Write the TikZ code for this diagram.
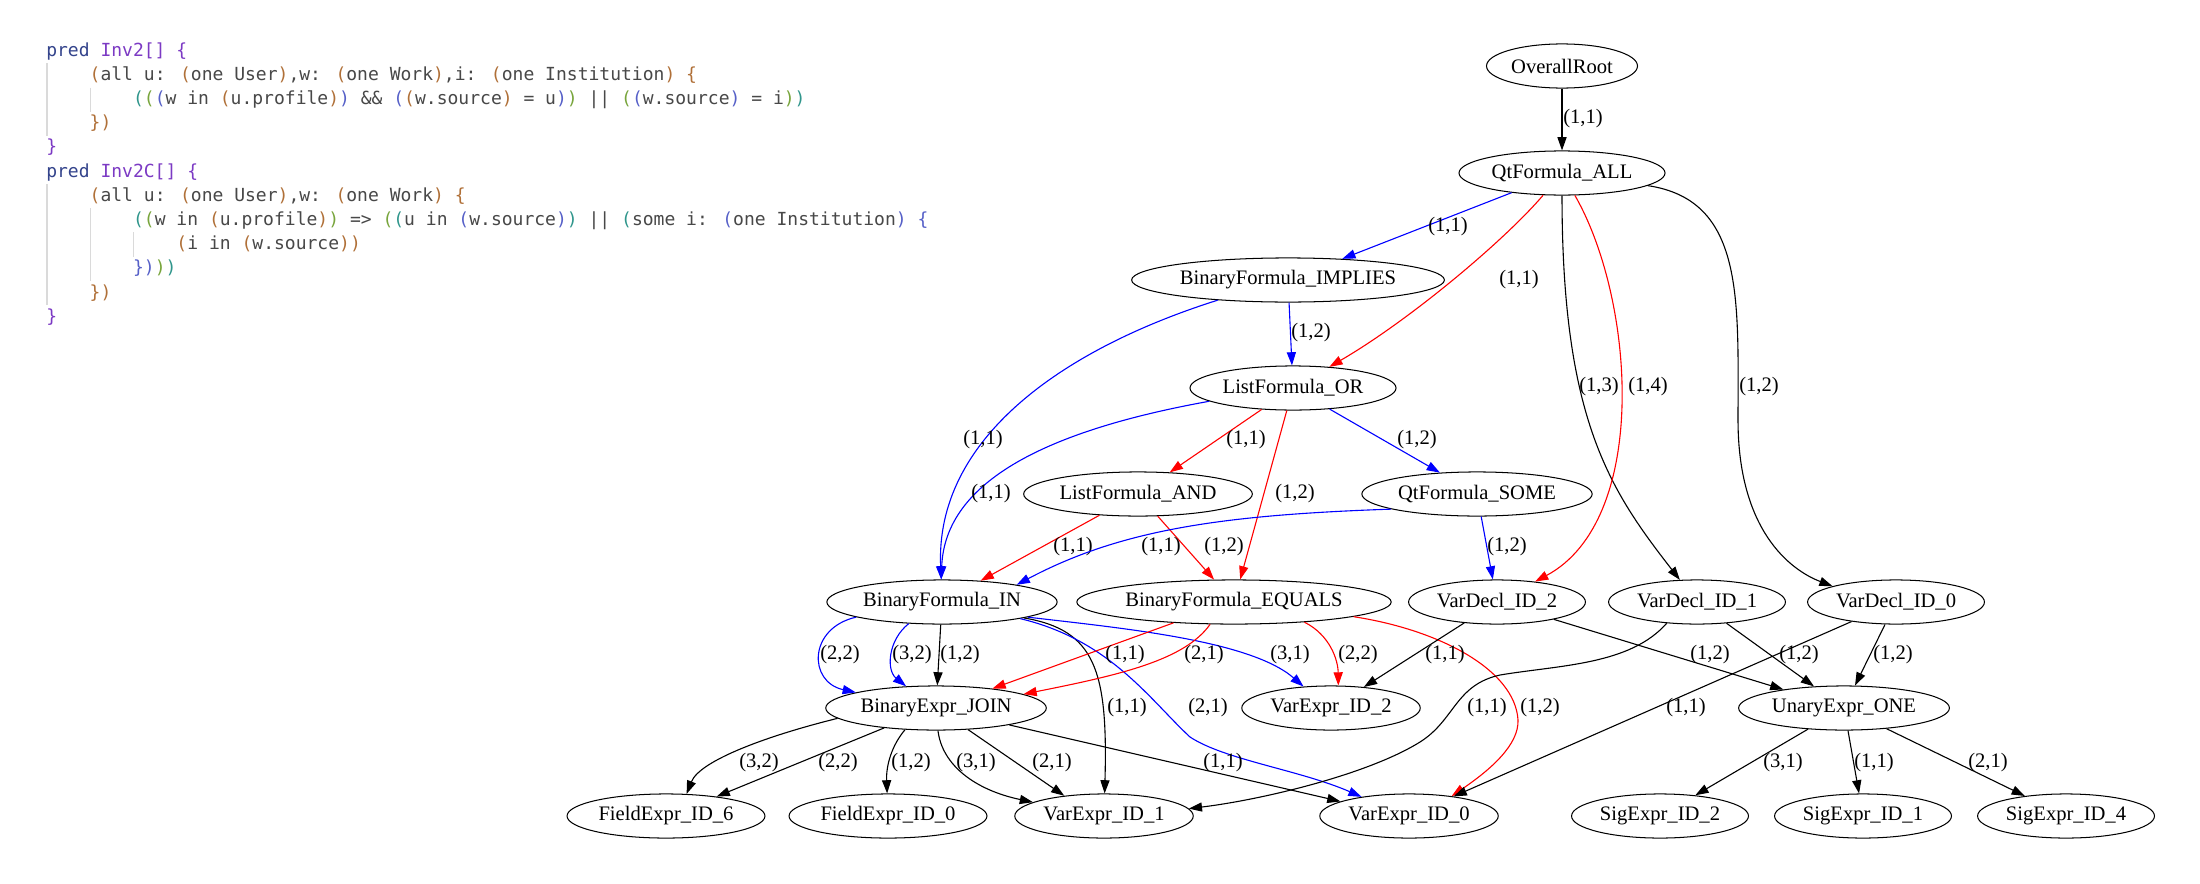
\documentclass[tikz,border=0pt]{standalone}
\usepackage{fontspec}
\setmainfont{Liberation Serif}
\newfontfamily\codefont{DejaVu Sans Mono}
\usepackage{xcolor}
\usetikzlibrary{shapes.geometric,arrows.meta}

\definecolor{kwpred}{RGB}{52,68,140}
\definecolor{predname}{RGB}{124,58,196}
\definecolor{codetxt}{RGB}{72,72,72}
\definecolor{brk1}{RGB}{176,112,56}
\definecolor{brk2}{RGB}{48,150,140}
\definecolor{brk3}{RGB}{120,165,60}
\definecolor{brk4}{RGB}{86,96,200}
\definecolor{guide}{RGB}{218,218,218}
\newcommand{\tok}[2]{\textcolor{#1}{#2}}

\tikzset{
  ast/.style={draw, ellipse, line width=0.7pt, minimum height=30pt, inner xsep=1.7pt, inner ysep=1pt, font=\fontsize{14}{16}\selectfont},
  lbl/.style={inner sep=0pt, text=black, font=\fontsize{14}{16}\selectfont},
  conn/.style={line width=0.75pt, -{Triangle[length=9pt,width=6.2pt]}},
  ek/.style={conn, black},
  eb/.style={conn, blue},
  er/.style={conn, red},
  codeln/.style={anchor=base west, inner sep=0pt, text=codetxt, font=\codefont\fontsize{12.25}{14}\selectfont},
  guideln/.style={guide, line width=0.7pt}
}

\begin{document}
\begin{tikzpicture}[x=0.68pt,y=-0.68pt]
\fill[white] (0,0) rectangle (2200,883);
\useasboundingbox (0,0) rectangle (2200,883);

% source predicates
\node[codeln] (c1) at (46,56) {\tok{kwpred}{pred} \tok{predname}{Inv2[] \{}};
\node[codeln] (c2) at (89.4,80.2) {\tok{brk1}{(}all u: \tok{brk1}{(}one User\tok{brk1}{)},w: \tok{brk1}{(}one Work\tok{brk1}{)},i: \tok{brk1}{(}one Institution\tok{brk1}{)} \tok{brk1}{\{}};
\node[codeln] (c3) at (132.8,104.4) {\tok{brk2}{(}\tok{brk3}{(}\tok{brk4}{(}w in \tok{brk1}{(}u.profile\tok{brk1}{)}\tok{brk4}{)} \&\& \tok{brk4}{(}\tok{brk1}{(}w.source\tok{brk1}{)} = u\tok{brk4}{)}\tok{brk3}{)} || \tok{brk3}{(}\tok{brk4}{(}w.source\tok{brk4}{)} = i\tok{brk3}{)}\tok{brk2}{)}};
\node[codeln] (c4) at (89.4,128.6) {\tok{brk1}{\})}};
\node[codeln] (c5) at (46,152.8) {\tok{predname}{\}}};
\node[codeln] (c6) at (46,177) {\tok{kwpred}{pred} \tok{predname}{Inv2C[] \{}};
\node[codeln] (c7) at (89.4,201.2) {\tok{brk1}{(}all u: \tok{brk1}{(}one User\tok{brk1}{)},w: \tok{brk1}{(}one Work\tok{brk1}{)} \tok{brk1}{\{}};
\node[codeln] (c8) at (132.8,225.4) {\tok{brk2}{(}\tok{brk3}{(}w in \tok{brk1}{(}u.profile\tok{brk1}{)}\tok{brk3}{)} => \tok{brk3}{(}\tok{brk2}{(}u in \tok{brk4}{(}w.source\tok{brk4}{)}\tok{brk2}{)} || \tok{brk2}{(}some i: \tok{brk4}{(}one Institution\tok{brk4}{)} \tok{brk4}{\{}};
\node[codeln] (c9) at (176.2,249.6) {\tok{brk1}{(}i in \tok{brk1}{(}w.source\tok{brk1}{)}\tok{brk1}{)}};
\node[codeln] (c10) at (132.8,273.8) {\tok{brk4}{\})}\tok{brk3}{)}\tok{brk2}{)}};
\node[codeln] (c11) at (89.4,298) {\tok{brk1}{\})}};
\node[codeln] (c12) at (46,322.2) {\tok{predname}{\}}};
\draw[guideln] (47,63) -- (47,136);
\draw[guideln] (90.4,87.5) -- (90.4,111.5);
\draw[guideln] (47,184) -- (47,305);
\draw[guideln] (90.4,208) -- (90.4,281);
\draw[guideln] (133.8,232) -- (133.8,257);

% tree nodes
\foreach \name/\x/\y/\txt in {ROOT/1562/66/OverallRoot, ALL/1562/173/QtFormula\_ALL,
  IMP/1288/280/BinaryFormula\_IMPLIES, OR/1293/388/ListFormula\_OR,
  AND/1138/494/ListFormula\_AND, SOME/1477/494/QtFormula\_SOME,
  IN/942/602/BinaryFormula\_IN, EQ/1234/602/BinaryFormula\_EQUALS,
  VD2/1497/602/VarDecl\_ID\_2, VD1/1697/602/VarDecl\_ID\_1, VD0/1896/602/VarDecl\_ID\_0,
  JOIN/936/708/BinaryExpr\_JOIN, VE2/1331/708/VarExpr\_ID\_2, UE/1844/708/UnaryExpr\_ONE,
  FE6/666/816/FieldExpr\_ID\_6, FE0/888/816/FieldExpr\_ID\_0, VE1/1104/816/VarExpr\_ID\_1,
  VE0/1409/816/VarExpr\_ID\_0, SE2/1660/816/SigExpr\_ID\_2, SE1/1863/816/SigExpr\_ID\_1,
  SE4/2066/816/SigExpr\_ID\_4}{
  \node[ast] (\name) at (\x,\y) {\txt};
}

% edges
\draw[ek] (ROOT) -- (ALL) node[lbl] at (1583,119) {(1,1)};
\draw[eb] (ALL) -- (IMP) node[lbl] at (1448,227) {(1,1)};
\draw[er] (ALL) .. controls (1505,240) and (1410,320) .. (OR) node[lbl] at (1519,280) {(1,1)};
\draw[ek] (ALL) .. controls (1562,420) and (1610,490) .. (VD1) node[lbl] at (1599,387) {(1,3)};
\draw[er] (ALL) .. controls (1635,300) and (1650,520) .. (VD2) node[lbl] at (1648,387) {(1,4)};
\draw[ek] (ALL) .. controls (1745,200) and (1738,300) .. (1738,420) .. controls (1738,530) and (1790,570) .. (VD0.166) node[lbl] at (1759,387) {(1,2)};
\draw[eb] (IMP) -- (OR) node[lbl] at (1311,333) {(1,2)};
\draw[eb] (IMP.196) .. controls (1060,350) and (935,440) .. (IN.92) node[lbl] at (983,440) {(1,1)};
\draw[eb] (OR.189) .. controls (1050,430) and (945,480) .. (IN.92) node[lbl] at (991,494) {(1,1)};
\draw[er] (OR) -- (AND) node[lbl] at (1246,440) {(1,1)};
\draw[er] (OR) -- (EQ) node[lbl] at (1295,494) {(1,2)};
\draw[eb] (OR) -- (SOME) node[lbl] at (1417,440) {(1,2)};
\draw[er] (AND) -- (IN) node[lbl] at (1073,547) {(1,1)};
\draw[er] (AND) -- (EQ) node[lbl] at (1224,547) {(1,2)};
\draw[eb] (SOME.190) .. controls (1220,515) and (1120,530) .. (IN.13) node[lbl] at (1161,547) {(1,1)};
\draw[eb] (SOME) -- (VD2) node[lbl] at (1507,547) {(1,2)};
\draw[eb] (IN.190) .. controls (808,628) and (808,682) .. (JOIN.169) node[lbl] at (840,655) {(2,2)};
\draw[eb] (IN.213) .. controls (888,640) and (886,670) .. (JOIN.144) node[lbl] at (912,655) {(3,2)};
\draw[ek] (IN) -- (JOIN) node[lbl] at (960,655) {(1,2)};
\draw[ek] (IN.349) .. controls (1095,630) and (1108,670) .. (VE1) node[lbl] at (1127,708) {(1,1)};
\draw[eb] (IN.350) .. controls (1120,628) and (1250,640) .. (VE2.142) node[lbl] at (1290,655) {(3,1)};
\draw[eb] (IN.348) .. controls (1110,640) and (1150,700) .. (1190,737) .. controls (1225,760) and (1300,770) .. (VE0.158) node[lbl] at (1208,708) {(2,1)};
\draw[er] (EQ.199) -- (JOIN.19) node[lbl] at (1125,655) {(1,1)};
\draw[er] (EQ.223) .. controls (1185,660) and (1120,675) .. (JOIN.9) node[lbl] at (1204,655) {(2,1)};
\draw[er] (EQ.344) .. controls (1330,635) and (1338,660) .. (VE2.72) node[lbl] at (1358,655) {(2,2)};
\draw[er] (EQ.353) .. controls (1440,630) and (1515,670) .. (1518,720) .. controls (1519,745) and (1490,770) .. (VE0.25) node[lbl] at (1540,708) {(1,2)};
\draw[ek] (VD2) -- (VE2) node[lbl] at (1445,655) {(1,1)};
\draw[ek] (VD2) -- (UE) node[lbl] at (1710,655) {(1,2)};
\draw[ek] (VD1) -- (UE) node[lbl] at (1799,655) {(1,2)};
\draw[ek] (VD0) -- (UE) node[lbl] at (1893,655) {(1,2)};
\draw[ek] (VD1.215) .. controls (1630,665) and (1560,665) .. (1500,675) .. controls (1455,685) and (1455,720) .. (1420,742) .. controls (1367,775) and (1260,800) .. (VE1.5) node[lbl] at (1487,708) {(1,1)};
\draw[ek] (VD0) -- (VE0) node[lbl] at (1686,708) {(1,1)};
\draw[ek] (JOIN.186) .. controls (770,735) and (700,760) .. (FE6.47) node[lbl] at (759,763) {(3,2)};
\draw[ek] (JOIN.201) -- (FE6.21) node[lbl] at (838,763) {(2,2)};
\draw[ek] (JOIN.215) .. controls (892,745) and (886,765) .. (FE0) node[lbl] at (911,763) {(1,2)};
\draw[ek] (JOIN.275) .. controls (942,765) and (975,790) .. (VE1.169) node[lbl] at (976,763) {(3,1)};
\draw[ek] (JOIN.326) -- (VE1.153) node[lbl] at (1052,763) {(2,1)};
\draw[ek] (JOIN.347) -- (VE0.168) node[lbl] at (1223,763) {(1,1)};
\draw[ek] (UE) -- (SE2) node[lbl] at (1783,763) {(3,1)};
\draw[ek] (UE) -- (SE1) node[lbl] at (1874,763) {(1,1)};
\draw[ek] (UE) -- (SE4) node[lbl] at (1988,763) {(2,1)};
\end{tikzpicture}
\end{document}
